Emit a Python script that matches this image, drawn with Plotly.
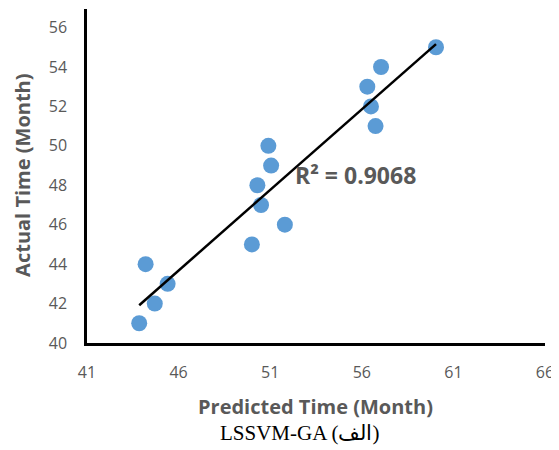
import numpy as np
import plotly.graph_objects as go

predicted = [43.85, 44.2, 44.7, 45.4, 50.0, 50.5, 50.3, 51.8, 51.05, 50.9, 56.3, 56.5, 56.75, 57.05, 60.05]
actual =    [41,    44,   42,   43,   45,   47,   48,   46,   49,    50,   53,   52,   51,   54,    55]
x_ticks = [41, 46, 51, 56, 61, 66]
y_ticks = [40, 42, 44, 46, 48, 50, 52, 54, 56]
r2_text = "R² = 0.9068"

slope, intercept = np.polyfit(predicted, actual, 1)
xl = np.array([min(predicted), max(predicted)])
yl = slope * xl + intercept

grey = "#595959"
tickfont = dict(family="Open Sans", size=16, color=grey)

fig = go.Figure()
fig.add_trace(go.Scatter(x=predicted, y=actual, mode="markers",
                         marker=dict(color="#5B9BD5", size=16, line=dict(width=0)),
                         showlegend=False))
fig.add_trace(go.Scatter(x=xl, y=yl, mode="lines",
                         line=dict(color="black", width=2.5), showlegend=False))

fig.add_annotation(x=55.63, y=48.52, text="<b>" + r2_text + "</b>", showarrow=False,
                   font=dict(family="Open Sans", size=23, color=grey))
fig.add_annotation(x=0.498, xref="paper", y=-0.189, yref="paper", yanchor="middle",
                   text="<b>Predicted Time (Month)</b>", showarrow=False,
                   font=dict(family="Open Sans", size=20, color=grey))
fig.add_annotation(x=0.465, xref="paper", y=-0.269, yref="paper", yanchor="middle",
                   text="LSSVM-GA (الف)", showarrow=False,
                   font=dict(family="Liberation Serif", size=21, color="black"))
fig.add_annotation(x=-0.140, xref="paper", y=0.503, yref="paper", textangle=-90,
                   xanchor="center", yanchor="middle",
                   text="<b>Actual Time (Month)</b>", showarrow=False,
                   font=dict(family="Open Sans", size=20, color=grey))

fig.update_xaxes(range=[41, 66], tickvals=x_ticks, showgrid=False, zeroline=False,
                 showline=True, linecolor="black", linewidth=2.5, ticks="",
                 tickfont=tickfont, ticklabelstandoff=13)
fig.update_yaxes(range=[40, 56.94], tickvals=y_ticks, showgrid=False, zeroline=False,
                 showline=True, linecolor="black", linewidth=2.5, ticks="",
                 tickfont=tickfont, ticklabelstandoff=14)
fig.update_layout(width=551, height=442, margin=dict(l=79, r=14, t=1, b=107, autoexpand=False),
                  plot_bgcolor="white", paper_bgcolor="white")
fig.write_html("out.html")
